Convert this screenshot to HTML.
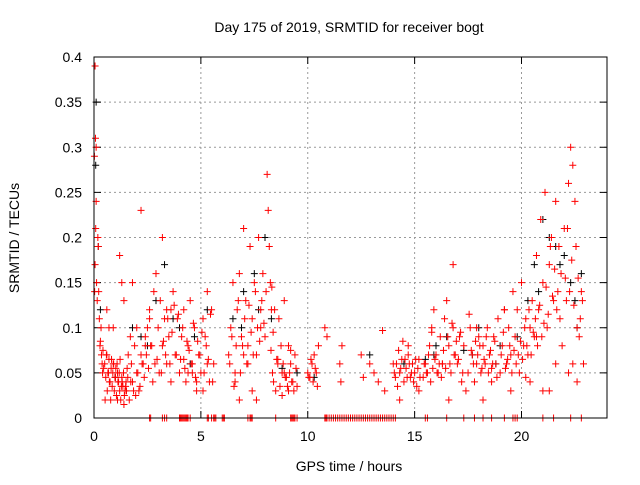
<!DOCTYPE html>
<html><head><meta charset="utf-8"><style>
body{margin:0;background:#fff}
svg{font-family:"Liberation Sans",sans-serif}
</style></head><body>
<svg id="chart" width="640" height="480" xmlns="http://www.w3.org/2000/svg">
<text x="349" y="32" text-anchor="middle" font-size="14">Day 175 of 2019, SRMTID for receiver bogt</text>
<text x="349" y="471" text-anchor="middle" font-size="14">GPS time / hours</text>
<text x="19" y="238" text-anchor="middle" font-size="14" transform="rotate(-90 19 238)">SRMTID / TECUs</text>
<g id="grid"></g>
<g id="axes"></g>
<g id="black"></g>
<g id="red"></g>
<rect x="94" y="57" width="513" height="361" fill="none" stroke="#000" stroke-width="1"/>
</svg>
<script>
const xTicks=[0,5,10,15,20];
const yTicks=[0,0.05,0.1,0.15,0.2,0.25,0.3,0.35,0.4];
const yTickLabels=["0","0.05","0.1","0.15","0.2","0.25","0.3","0.35","0.4"];
const redT=[0.02,0.05,0.08,0.1,0.05,0.03,0.07,0.1,0.12,0.15,0.18,0.2,0.22,0.25,0.28,0.3,0.33,0.35,0.38,0.4,0.42,0.45,0.5,0.55,0.6,0.65,0.7,0.75,0.8,0.85,0.9,0.95,1.0,1.05,1.1,1.15,1.2,1.25,1.3,1.35,1.4,1.45,1.5,1.55,1.6,1.7,1.75,1.8,1.9,2.0,2.1,2.2,2.3,2.4,2.5,2.6,2.7,2.8,2.85,2.9,3.0,3.05,3.1,3.2,3.3,3.4,3.5,3.6,3.7,3.8,3.9,4.0,4.1,4.2,4.3,4.4,4.5,4.6,4.7,4.8,4.9,5.0,5.1,5.2,5.3,5.4,5.5,5.6,6.3,6.4,6.5,6.6,6.7,6.8,6.9,7.0,7.1,7.2,7.3,7.4,7.5,7.6,7.7,7.8,7.9,8.0,8.05,8.1,8.15,8.2,8.25,8.3,8.35,8.4,8.5,8.6,8.7,8.8,8.9,9.0,9.1,9.2,9.3,9.4,9.5,10.0,10.1,10.2,10.3,10.4,10.5,10.8,10.9,11.5,11.55,11.6,12.5,12.6,12.9,13.1,13.3,13.5,13.6,14.0,14.1,14.2,14.3,14.4,14.5,14.6,14.7,14.8,14.9,15.0,15.1,15.2,15.4,15.5,15.6,15.7,15.8,15.9,16.0,16.1,16.2,16.3,16.4,16.5,16.6,16.7,16.8,16.9,17.0,17.1,17.2,17.3,17.5,17.6,17.7,17.8,17.9,18.0,18.1,18.2,18.3,18.4,18.5,18.6,18.7,18.8,18.9,19.0,19.1,19.2,19.3,19.4,19.5,19.6,19.7,19.8,19.9,20.0,20.1,20.2,20.3,20.4,20.5,20.6,20.7,20.8,20.9,21.0,21.1,21.2,21.3,21.4,21.5,21.6,21.7,21.75,21.8,21.85,21.9,22.0,22.1,22.2,22.3,22.4,22.5,22.6,22.7,22.8,22.9,0.6,0.9,1.2,1.4,1.8,2.2,2.6,3.2,3.6,4.2,4.6,5.1,6.6,7.0,7.4,7.8,8.6,8.9,9.2,14.3,14.7,15.8,16.3,16.8,17.4,18.2,18.6,19.5,20.2,20.7,21.3,21.6,22.2,22.6,0.7,1.1,1.3,2.0,2.4,3.4,4.4,4.8,5.3,6.8,7.2,7.6,8.8,9.1,15.2,16.6,17.9,19.2,20.4,21.0,22.4,
0.52,0.58,0.62,0.68,0.72,0.78,0.82,0.88,0.92,0.98,1.02,1.08,1.12,1.18,1.22,1.28,1.32,1.38,1.42,1.48,1.52,1.58,1.65,1.72,1.85,1.95,2.05,2.15,2.25,2.35,2.45,2.55,2.65,2.75,2.95,3.15,3.25,3.35,3.45,3.55,3.65,3.75,3.85,3.95,4.05,4.15,4.25,4.35,4.45,4.55,4.65,4.75,4.85,4.95,5.05,5.15,5.25,5.35,5.45,5.55,6.35,6.45,6.55,6.65,6.75,6.85,6.95,7.05,7.15,7.25,7.35,7.45,7.55,7.65,7.75,7.85,7.95,8.28,8.32,8.38,8.45,8.55,8.65,8.75,8.85,8.95,9.05,9.15,9.25,9.35,9.45,10.05,10.15,10.25,10.35,10.45,14.05,14.15,14.25,14.35,14.45,14.55,14.65,14.75,14.85,14.95,15.05,15.15,15.25,15.45,15.55,15.65,15.75,15.85,15.95,16.05,16.15,16.25,16.35,16.45,16.55,16.65,16.75,16.85,16.95,17.05,17.15,17.25,17.55,17.65,17.75,17.85,17.95,18.05,18.15,18.25,18.35,18.45,18.55,18.65,18.75,18.85,19.05,19.15,19.25,19.35,19.45,19.55,19.65,19.75,19.85,19.95,20.05,20.15,20.25,20.35,20.45,20.55,20.65,20.75,20.85,20.95,21.05,21.15,21.25,21.35,21.45,21.55,21.65,22.05,22.15,22.25,22.35,22.45,22.55,22.65,22.75,22.85];
const redV=[0.29,0.39,0.21,0.3,0.17,0.14,0.31,0.24,0.15,0.13,0.2,0.19,0.14,0.11,0.08,0.085,0.1,0.07,0.06,0.05,0.075,0.055,0.06,0.045,0.07,0.05,0.065,0.04,0.055,0.035,0.06,0.03,0.045,0.025,0.05,0.04,0.03,0.02,0.045,0.035,0.015,0.03,0.04,0.055,0.07,0.09,0.06,0.04,0.08,0.05,0.03,0.07,0.06,0.09,0.1,0.12,0.08,0.14,0.06,0.16,0.1,0.05,0.13,0.08,0.11,0.06,0.09,0.04,0.14,0.07,0.11,0.05,0.09,0.12,0.04,0.08,0.13,0.06,0.1,0.03,0.07,0.05,0.11,0.09,0.14,0.04,0.12,0.06,0.07,0.1,0.15,0.05,0.12,0.16,0.09,0.21,0.13,0.08,0.19,0.11,0.15,0.07,0.2,0.12,0.16,0.09,0.14,0.27,0.23,0.19,0.15,0.12,0.05,0.04,0.03,0.06,0.035,0.025,0.05,0.045,0.03,0.06,0.04,0.07,0.035,0.05,0.045,0.06,0.07,0.05,0.08,0.1,0.09,0.06,0.04,0.08,0.07,0.045,0.06,0.05,0.04,0.097,0.03,0.06,0.045,0.035,0.05,0.065,0.04,0.055,0.07,0.045,0.06,0.05,0.035,0.065,0.045,0.06,0.05,0.08,0.1,0.12,0.07,0.05,0.09,0.06,0.11,0.13,0.08,0.05,0.1,0.07,0.06,0.09,0.04,0.08,0.05,0.1,0.07,0.04,0.06,0.09,0.05,0.08,0.06,0.1,0.07,0.04,0.09,0.06,0.11,0.05,0.08,0.12,0.06,0.1,0.07,0.14,0.09,0.12,0.05,0.15,0.08,0.11,0.07,0.1,0.13,0.09,0.18,0.12,0.22,0.15,0.25,0.1,0.17,0.2,0.13,0.24,0.14,0.19,0.11,0.16,0.08,0.21,0.13,0.26,0.3,0.28,0.24,0.1,0.09,0.14,0.06,0.12,0.1,0.18,0.13,0.15,0.23,0.11,0.2,0.12,0.065,0.05,0.03,0.04,0.07,0.03,0.1,0.065,0.13,0.075,0.02,0.08,0.095,0.06,0.17,0.03,0.02,0.055,0.03,0.045,0.09,0.03,0.06,0.05,0.04,0.1,0.02,0.15,0.1,0.08,0.12,0.05,0.04,0.06,0.02,0.06,0.02,0.05,0.08,0.03,0.02,0.1,0.12,0.04,0.03,0.06,0.02,0.07,0.03,0.05,0.04,0.02,
0.065,0.05,0.06,0.045,0.055,0.06,0.04,0.05,0.065,0.035,0.04,0.05,0.025,0.035,0.03,0.045,0.02,0.04,0.03,0.025,0.05,0.035,0.06,0.045,0.07,0.055,0.08,0.04,0.065,0.05,0.085,0.07,0.11,0.06,0.095,0.125,0.07,0.115,0.065,0.1,0.055,0.085,0.075,0.06,0.105,0.045,0.085,0.07,0.095,0.05,0.08,0.065,0.115,0.04,0.06,0.09,0.035,0.08,0.13,0.05,0.08,0.11,0.06,0.125,0.095,0.07,0.14,0.1,0.085,0.13,0.105,0.075,0.145,0.095,0.12,0.065,0.11,0.08,0.06,0.045,0.035,0.05,0.04,0.03,0.055,0.045,0.065,0.04,0.055,0.035,0.05,0.06,0.075,0.055,0.085,0.065,0.045,0.06,0.05,0.04,0.065,0.055,0.045,0.06,0.05,0.07,0.04,0.055,0.065,0.05,0.06,0.045,0.075,0.055,0.09,0.06,0.105,0.07,0.085,0.065,0.095,0.05,0.115,0.075,0.06,0.085,0.07,0.08,0.055,0.065,0.09,0.05,0.075,0.06,0.085,0.045,0.07,0.095,0.055,0.065,0.08,0.05,0.075,0.06,0.07,0.085,0.065,0.1,0.08,0.12,0.07,0.095,0.11,0.08,0.125,0.09,0.105,0.145,0.115,0.19,0.135,0.165,0.12,0.155,0.21,0.14,0.175,0.125,0.19,0.155,0.11,0.13,0.16,0.115,0.145,0.105,0.125,0.135,0.11];
const blackT=[0.08,0.1,0.2,0.3,1.0,1.8,2.5,2.9,3.3,4.0,4.7,5.3,6.5,7.0,7.5,8.0,8.3,8.8,9.5,10.3,12.9,14.5,15.5,16.5,17.3,18.0,19.0,19.8,20.3,20.6,21.0,21.3,21.6,22.0,22.3,22.6,22.8,16.0,17.7,2.2,3.7,4.5,6.9,7.7,15.9,18.8,20.8,21.8,22.5];
const blackV=[0.28,0.35,0.19,0.12,0.045,0.1,0.08,0.13,0.17,0.1,0.09,0.12,0.11,0.14,0.16,0.2,0.11,0.055,0.05,0.045,0.07,0.06,0.065,0.09,0.075,0.1,0.08,0.09,0.13,0.17,0.22,0.2,0.19,0.18,0.15,0.1,0.16,0.08,0.07,0.09,0.11,0.06,0.1,0.12,0.07,0.06,0.14,0.17,0.13];
const zeroT=[2.6,2.65,3.2,3.3,3.4,4.0,4.05,4.1,4.15,4.2,4.25,4.3,4.35,4.4,4.5,5.3,5.35,5.5,5.6,5.65,5.7,6.0,6.05,6.1,7.2,7.3,7.35,7.4,8.5,9.2,9.25,9.3,9.35,9.4,9.5,10.8,10.85,10.9,11.0,11.1,11.2,11.3,11.4,11.5,11.6,11.7,11.8,11.9,12.0,12.1,12.2,12.3,12.4,12.5,12.6,12.7,12.8,12.9,13.0,13.1,13.2,13.3,13.4,13.5,13.6,13.7,13.8,13.9,14.0,14.1,15.5,15.6,16.5,17.3,17.8,18.2,18.6,19.2,19.6,19.7,19.8,21.0,21.5,22.3,22.8];
const NS="http://www.w3.org/2000/svg";
const X=v=>94+v*(513/24), Y=v=>418-v*(361/0.4);
function mk(tag,attrs,parent){const e=document.createElementNS(NS,tag);for(const k in attrs)e.setAttribute(k,attrs[k]);parent.appendChild(e);return e;}
const grid=document.getElementById('grid'),axes=document.getElementById('axes');
xTicks.forEach(t=>{
  if(t>0){const l=mk('line',{x1:X(t),x2:X(t),y1:57,y2:418,stroke:'#999','stroke-dasharray':'2,3'},grid);
  
  }
  const k=mk('line',{x1:X(t),x2:X(t),y1:418,y2:411,stroke:'#000'},axes);
  
  
  const k2=mk('line',{x1:X(t),x2:X(t),y1:57,y2:64,stroke:'#000'},axes);
  
  
  const tx=mk('text',{x:X(t),y:441,'text-anchor':'middle','font-size':14},axes);tx.textContent=t;
  
  
});
yTicks.forEach((t,i)=>{
  if(t>0&&t<0.4){const l=mk('line',{x1:94,x2:607,y1:Y(t),y2:Y(t),stroke:'#999','stroke-dasharray':'2,3'},grid);
  
  }
  const k=mk('line',{x1:94,x2:101,y1:Y(t),y2:Y(t),stroke:'#000'},axes);
  
  
  const k2=mk('line',{x1:600,x2:607,y1:Y(t),y2:Y(t),stroke:'#000'},axes);
  
  
  const tx=mk('text',{x:82,y:Y(t)+5,'text-anchor':'end','font-size':14},axes);tx.textContent=yTickLabels[i];
  
  
});
function plus(g,t,v,c){const x=X(t),y=Y(v);
  const p=mk('path',{d:`M${x-3.5},${y}H${x+3.5}M${x},${y-3.5}V${y+3.5}`,stroke:c,'stroke-width':1,fill:'none'},g);
  
  }
const bg=document.getElementById('black'),rg=document.getElementById('red');
blackT.forEach((t,i)=>plus(bg,t,blackV[i],'#000'));
redT.forEach((t,i)=>plus(rg,t,redV[i],'#f00'));
zeroT.forEach(t=>plus(rg,t,0,'#f00'));
</script>
</body></html>
